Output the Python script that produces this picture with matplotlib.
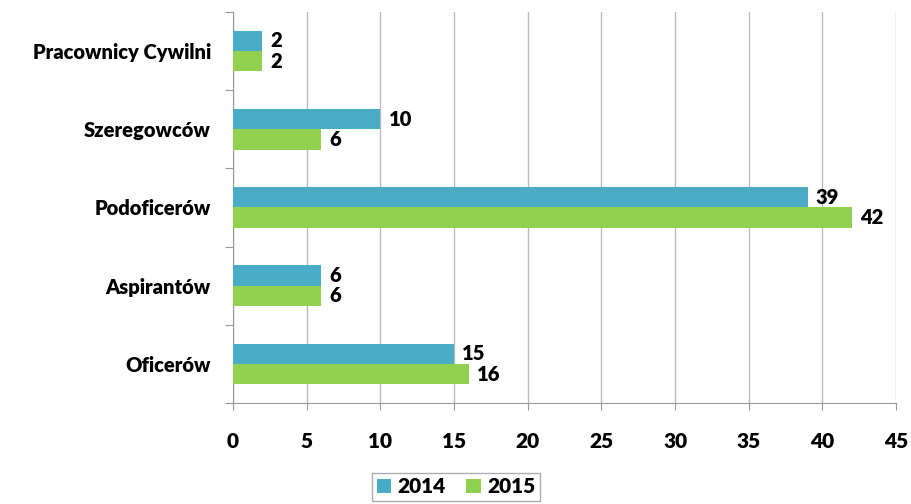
import matplotlib.pyplot as plt
import numpy as np

categories = ["Oficerów", "Aspirantów", "Podoficerów", "Szeregowców", "Pracownicy Cywilni"]
values_2014 = [15, 6, 39, 10, 2]
values_2015 = [16, 6, 42, 6, 2]
years = ["2014", "2015"]

blue = "#4BACC6"
green = "#92D050"
plt.rcParams['font.family'] = ['Lato', 'DejaVu Sans']
plt.rcParams['font.weight'] = 'heavy'

fig = plt.figure(figsize=(9.12, 5.04), dpi=100)
ax = fig.add_axes([0.2555, 0.2004, 0.727, 0.776])

y = np.arange(len(categories))
h = 0.26
b1 = ax.barh(y + h / 2, values_2014, height=h, color=blue, label=years[0], zorder=3)
b2 = ax.barh(y - h / 2, values_2015, height=h, color=green, label=years[1], zorder=3)

# value labels next to bar ends
for bars in (b1, b2):
    for bar in bars:
        w = bar.get_width()
        ax.text(w + 0.55, bar.get_y() + bar.get_height() / 2, str(int(w)),
                va='center', ha='left', fontsize=14.5, fontweight='heavy')

ax.set_xlim(0, 45)
ax.set_ylim(-0.5, len(categories) - 0.5)
ax.set_xticks(np.arange(0, 46, 5))
ax.tick_params(axis='x', labelsize=15, length=5, color='#999999', pad=16)
ax.set_yticks(np.arange(-0.5, len(categories), 1))
ax.set_yticklabels([])
ax.tick_params(axis='y', length=6, color='#999999')
ax.set_yticks(y, minor=True)
ax.set_yticklabels(categories, minor=True, fontsize=14.5, fontweight='heavy')
ax.tick_params(axis='y', which='minor', length=0, pad=16)

ax.grid(axis='x', color='#BBBBBB', linewidth=1, zorder=0)
for s in ['top', 'right']:
    ax.spines[s].set_visible(False)
for s in ['left', 'bottom']:
    ax.spines[s].set_color('#999999')

leg = fig.legend(loc='center', bbox_to_anchor=(0.5, 0.034), ncol=2, fontsize=15,
                 handlelength=0.7, handleheight=0.7, handletextpad=0.3, columnspacing=1.0,
                 fancybox=False, edgecolor='#999999', borderpad=0.2)
leg.get_frame().set_linewidth(1)

fig.savefig("out.png", dpi=100)
